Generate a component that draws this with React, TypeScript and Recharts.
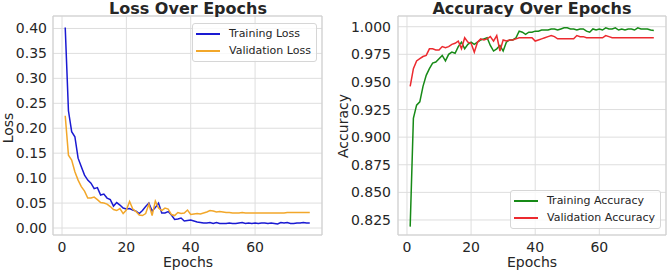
import { LineChart, Line, XAxis, YAxis, CartesianGrid, ReferenceArea } from 'recharts';

// per-epoch metrics, epochs 1..77
const trainLoss = [
  0.402, 0.235, 0.193, 0.183, 0.140, 0.123, 0.106, 0.096, 0.090, 0.079,
  0.081, 0.066, 0.068, 0.060, 0.057, 0.044, 0.051, 0.046, 0.040, 0.038,
  0.039, 0.036, 0.034, 0.029, 0.035, 0.043, 0.050, 0.034, 0.041, 0.050,
  0.030, 0.030, 0.033, 0.026, 0.017, 0.018, 0.020, 0.014, 0.015, 0.016,
  0.014, 0.012, 0.011, 0.010, 0.010, 0.011, 0.009, 0.011, 0.009, 0.009,
  0.009, 0.010, 0.009, 0.009, 0.010, 0.011, 0.009, 0.010, 0.009, 0.010,
  0.009, 0.010, 0.010, 0.009, 0.010, 0.009, 0.008, 0.011, 0.010, 0.011,
  0.009, 0.009, 0.010, 0.010, 0.011, 0.010, 0.010,
];

const valLoss = [
  0.225, 0.146, 0.136, 0.113, 0.096, 0.083, 0.074, 0.060, 0.060, 0.062,
  0.057, 0.051, 0.050, 0.048, 0.043, 0.037, 0.035, 0.039, 0.029, 0.036,
  0.053, 0.038, 0.033, 0.026, 0.025, 0.029, 0.048, 0.025, 0.054, 0.040,
  0.035, 0.040, 0.038, 0.027, 0.025, 0.031, 0.029, 0.030, 0.036, 0.027,
  0.028, 0.029, 0.028, 0.030, 0.032, 0.035, 0.034, 0.032, 0.033, 0.032,
  0.031, 0.031, 0.030, 0.030, 0.030, 0.031, 0.030, 0.030, 0.030, 0.030,
  0.030, 0.030, 0.030, 0.030, 0.030, 0.030, 0.030, 0.030, 0.030, 0.031,
  0.031, 0.031, 0.031, 0.031, 0.031, 0.031, 0.031,
];

const trainAcc = [
  0.819, 0.917, 0.929, 0.932, 0.946, 0.956, 0.962, 0.967, 0.968, 0.971,
  0.974, 0.969, 0.975, 0.977, 0.976, 0.982, 0.986, 0.980, 0.984, 0.986,
  0.984, 0.986, 0.988, 0.989, 0.990, 0.983, 0.978, 0.980, 0.983, 0.978,
  0.986, 0.988, 0.988, 0.990, 0.996, 0.995, 0.993, 0.995, 0.995, 0.996,
  0.996, 0.997, 0.997, 0.997, 0.998, 0.998, 0.997, 0.998, 0.999, 0.999,
  0.998, 0.998, 0.997, 0.998, 0.998, 0.996, 0.995, 0.998, 0.997, 0.998,
  0.997, 0.999, 0.998, 0.998, 0.999, 0.997, 0.998, 0.997, 0.998, 0.998,
  0.997, 0.999, 0.998, 0.998, 0.998, 0.997, 0.9965,
];

const valAcc = [
  0.946, 0.962, 0.969, 0.971, 0.973, 0.974, 0.980, 0.980, 0.979, 0.979,
  0.982, 0.981, 0.982, 0.984, 0.985, 0.987, 0.980, 0.990, 0.986, 0.985,
  0.977, 0.986, 0.989, 0.988, 0.989, 0.991, 0.987, 0.992, 0.978, 0.988,
  0.987, 0.988, 0.988, 0.989, 0.990, 0.990, 0.990, 0.990, 0.990, 0.987,
  0.988, 0.989, 0.990, 0.991, 0.992, 0.991, 0.989, 0.989, 0.989, 0.989,
  0.989, 0.989, 0.992, 0.991, 0.991, 0.990, 0.990, 0.990, 0.990, 0.990,
  0.990, 0.992, 0.991, 0.990, 0.990, 0.990, 0.990, 0.990, 0.990, 0.990,
  0.990, 0.990, 0.990, 0.990, 0.990, 0.990, 0.990,
];

const epochTicks = [0, 20, 40, 60];
const lossTicks = [0, 0.05, 0.1, 0.15, 0.2, 0.25, 0.3, 0.35, 0.4];
const accTicks = [0.825, 0.85, 0.875, 0.9, 0.925, 0.95, 0.975, 1.0];

const X_DOMAIN: [number, number] = [-2.8, 80.8];
const LOSS_DOMAIN: [number, number] = [-0.014, 0.425];
const ACC_DOMAIN: [number, number] = [0.8114, 1.0097];

const FONT = "'DejaVu Sans', sans-serif";
const TEXT = '#262626';
const GRID = '#dedede';

const C_TRAIN_LOSS = '#1a1ad2';
const C_VAL_LOSS = '#f2a72a';
const C_TRAIN_ACC = '#178a17';
const C_VAL_ACC = '#ec2a2f';

const lossData = trainLoss.map((v, i) => ({ epoch: i + 1, train: v, val: valLoss[i] }));
const accData = trainAcc.map((v, i) => ({ epoch: i + 1, train: v, val: valAcc[i] }));

const tickStyle = { fontSize: 14, fill: TEXT, fontFamily: FONT };

const LegendBox = ({ left, top, items }: { left: number; top: number; items: { label: string; color: string }[] }) => (
  <div
    style={{
      position: 'absolute',
      left,
      top,
      padding: '1px 5px 2px 3px',
      border: '1px solid #d6d6d6',
      borderRadius: 3,
      background: 'rgba(255,255,255,0.8)',
      fontFamily: FONT,
      fontSize: 11,
      color: TEXT,
    }}
  >
    {items.map((it) => (
      <div key={it.label} style={{ display: 'flex', alignItems: 'center', height: 17, whiteSpace: 'nowrap' }}>
        <span style={{ display: 'inline-block', width: 24, height: 2, background: it.color, marginRight: 9 }} />
        {it.label}
      </div>
    ))}
  </div>
);

const Title = ({ x, text }: { x: number; text: string }) => (
  <div
    style={{
      position: 'absolute',
      left: x,
      top: 0,
      transform: 'translateX(-50%)',
      fontFamily: FONT,
      fontWeight: 'bold',
      fontSize: 16,
      lineHeight: '17px',
      color: TEXT,
      whiteSpace: 'nowrap',
    }}
  >
    {text}
  </div>
);

const AxisLabel = ({ x, y, text, rotate }: { x: number; y: number; text: string; rotate?: boolean }) => (
  <div
    style={{
      position: 'absolute',
      left: x,
      top: y,
      transform: `translate(-50%, -50%)${rotate ? ' rotate(-90deg)' : ''}`,
      fontFamily: FONT,
      fontSize: 14,
      lineHeight: '16px',
      color: TEXT,
      whiteSpace: 'nowrap',
    }}
  >
    {text}
  </div>
);

export default function App() {
  return (
    <div style={{ position: 'absolute', left: 0, top: 0, width: 669, height: 273, background: '#fff', overflow: 'hidden' }}>
      <div style={{ position: 'absolute', left: 0, top: 0 }}>
        <LineChart width={335} height={273} data={lossData} margin={{ top: 16, right: 13, bottom: 0, left: 0 }}>
          <CartesianGrid stroke={GRID} strokeWidth={1} />
          <XAxis
            type="number"
            dataKey="epoch"
            domain={X_DOMAIN}
            ticks={epochTicks}
            allowDataOverflow
            axisLine={false}
            tickLine={false}
            tickMargin={1}
            height={38}
            tick={tickStyle}
          />
          <YAxis
            type="number"
            domain={LOSS_DOMAIN}
            ticks={lossTicks}
            allowDataOverflow
            axisLine={false}
            tickLine={false}
            tickMargin={0}
            width={53}
            tick={tickStyle}
            tickFormatter={(v: number) => v.toFixed(2)}
          />
          <ReferenceArea x1={X_DOMAIN[0]} x2={X_DOMAIN[1]} y1={LOSS_DOMAIN[0]} y2={LOSS_DOMAIN[1]} fill="none" stroke="#cfcfcf" />
          <Line type="linear" dataKey="train" stroke={C_TRAIN_LOSS} strokeWidth={1.5} dot={false} isAnimationActive={false} />
          <Line type="linear" dataKey="val" stroke={C_VAL_LOSS} strokeWidth={1.5} dot={false} isAnimationActive={false} />
        </LineChart>
      </div>

      <div style={{ position: 'absolute', left: 335, top: 0 }}>
        <LineChart width={334} height={273} data={accData} margin={{ top: 16, right: 3, bottom: 0, left: 10 }}>
          <CartesianGrid stroke={GRID} strokeWidth={1} />
          <XAxis
            type="number"
            dataKey="epoch"
            domain={X_DOMAIN}
            ticks={epochTicks}
            allowDataOverflow
            axisLine={false}
            tickLine={false}
            tickMargin={1}
            height={38}
            tick={tickStyle}
          />
          <YAxis
            type="number"
            domain={ACC_DOMAIN}
            ticks={accTicks}
            allowDataOverflow
            axisLine={false}
            tickLine={false}
            tickMargin={1}
            width={53}
            tick={tickStyle}
            tickFormatter={(v: number) => v.toFixed(3)}
          />
          <ReferenceArea x1={X_DOMAIN[0]} x2={X_DOMAIN[1]} y1={ACC_DOMAIN[0]} y2={ACC_DOMAIN[1]} fill="none" stroke="#cfcfcf" />
          <Line type="linear" dataKey="train" stroke={C_TRAIN_ACC} strokeWidth={1.5} dot={false} isAnimationActive={false} />
          <Line type="linear" dataKey="val" stroke={C_VAL_ACC} strokeWidth={1.5} dot={false} isAnimationActive={false} />
        </LineChart>
      </div>

      <Title x={188} text="Loss Over Epochs" />
      <Title x={532} text="Accuracy Over Epochs" />
      <AxisLabel x={188} y={262} text="Epochs" />
      <AxisLabel x={532} y={262} text="Epochs" />
      <AxisLabel x={8} y={128} text="Loss" rotate />
      <AxisLabel x={343} y={126} text="Accuracy" rotate />

      <LegendBox
        left={192}
        top={23}
        items={[
          { label: 'Training Loss', color: C_TRAIN_LOSS },
          { label: 'Validation Loss', color: C_VAL_LOSS },
        ]}
      />
      <LegendBox
        left={510}
        top={190}
        items={[
          { label: 'Training Accuracy', color: C_TRAIN_ACC },
          { label: 'Validation Accuracy', color: C_VAL_ACC },
        ]}
      />
    </div>
  );
}
